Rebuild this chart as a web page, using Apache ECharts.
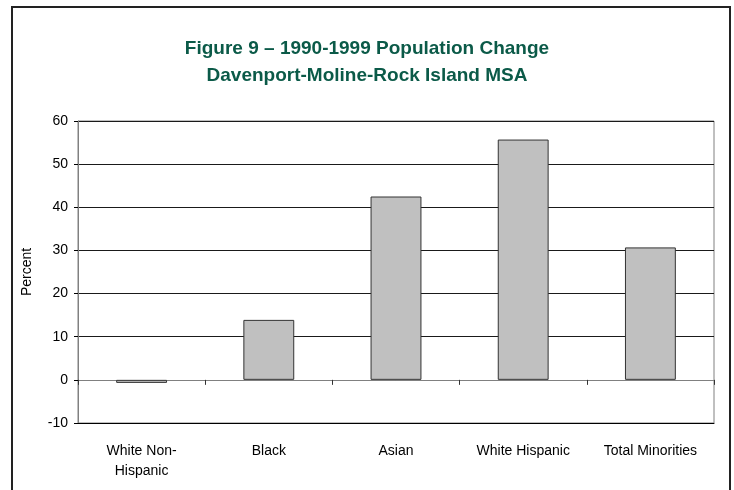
<!DOCTYPE html>
<html>
<head>
<meta charset="utf-8">
<script src="https://cdn.jsdelivr.net/npm/echarts@6/dist/echarts.min.js"></script>
<style>
  html, body { margin: 0; padding: 0; background: #fff; }
  #chart { width: 734px; height: 490px; }
</style>
</head>
<body>
<div id="chart"></div>
<script>
// categories and values (percent change 1990-1999)
const categories = ['White Non-\nHispanic', 'Black', 'Asian', 'White Hispanic', 'Total Minorities']
const changeValues = [-0.7, 13.9, 42.5, 55.7, 30.7]
const yTicks = [-10, 0, 10, 20, 30, 40, 50, 60]

const chart = echarts.init(document.getElementById('chart'))

const labelFont = {
  color: '#000',
  fontFamily: 'Liberation Sans, Arial, sans-serif',
  fontSize: 14,
}

chart.setOption({
  animation: false,
  title: {
    text: 'Figure 9 – 1990-1999 Population Change\nDavenport-Moline-Rock Island MSA',
    left: 'center',
    top: 30,
    textStyle: {
      color: '#0b5a48',
      fontFamily: 'Liberation Sans Narrow, Liberation Sans, Arial, sans-serif',
      fontWeight: 'bold',
      fontSize: 19,
      lineHeight: 27,
    },
  },
  // outer frame
  graphic: [
    {
      type: 'rect',
      shape: { x: 12, y: 7, width: 718, height: 520 },
      style: { fill: 'none', stroke: '#222', lineWidth: 2 },
      silent: true,
    },
  ],
  grid: {
    left: 78,
    right: 20,
    top: 121,
    bottom: 67,
    show: true,
    borderColor: '#808080',
    borderWidth: 1,
  },
  xAxis: [
    {
      type: 'category',
      data: categories,
      position: 'bottom',
      axisLine: { onZero: false, lineStyle: { color: '#000' } },
      axisTick: { show: false },
      axisLabel: { ...labelFont, margin: 18, lineHeight: 20, interval: 0 },
    },
    {
      type: 'category',
      data: categories,
      position: 'top',
      axisLine: { onZero: true, lineStyle: { color: '#808080' } },
      axisTick: { show: true, inside: true, length: 5, lineStyle: { color: '#333' } },
      axisLabel: { show: false },
    },
  ],
  yAxis: {
    type: 'value',
    min: yTicks[0],
    max: yTicks[yTicks.length - 1],
    interval: 10,
    name: 'Percent',
    nameLocation: 'middle',
    nameGap: 44,
    nameTextStyle: { ...labelFont, fontSize: 14 },
    axisLine: { show: true, lineStyle: { color: '#808080' } },
    axisTick: { show: true, length: 4, lineStyle: { color: '#000' } },
    axisLabel: { ...labelFont, margin: 10 },
    splitLine: { show: true, lineStyle: { color: '#1a1a1a', width: 1 } },
  },
  series: [
    {
      type: 'bar',
      xAxisIndex: 0,
      data: changeValues,
      barCategoryGap: '60%',
      itemStyle: {
        color: '#c0c0c0',
        borderColor: '#333',
        borderWidth: 1,
      },
    },
  ],
})
</script>
</body>
</html>
